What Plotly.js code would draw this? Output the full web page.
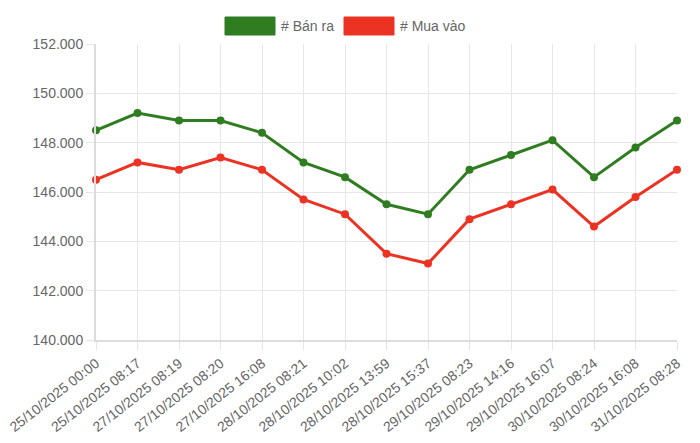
<!DOCTYPE html>
<html>
<head>
<meta charset="utf-8">
<script src="https://cdn.plot.ly/plotly-3.0.1.min.js"></script>
<style>
  html, body { margin: 0; padding: 0; background: #fff; }
  #chart { width: 700px; height: 443px; }
</style>
</head>
<body>
<div id="chart"></div>
<script>
var labels = [
  '25/10/2025 00:00', '25/10/2025 08:17', '27/10/2025 08:19', '27/10/2025 08:20',
  '27/10/2025 16:08', '28/10/2025 08:21', '28/10/2025 10:02', '28/10/2025 13:59',
  '28/10/2025 15:37', '29/10/2025 08:23', '29/10/2025 14:16', '29/10/2025 16:07',
  '30/10/2025 08:24', '30/10/2025 16:08', '31/10/2025 08:28'
];
var banRa = [148500, 149200, 148900, 148900, 148400, 147200, 146600, 145500,
             145100, 146900, 147500, 148100, 146600, 147800, 148900];
var muaVao = [146500, 147200, 146900, 147400, 146900, 145700, 145100, 143500,
              143100, 144900, 145500, 146100, 144600, 145800, 146900];
var seriesNames = ['# Bán ra', '# Mua vào'];

var green = '#2f7d20';
var red = '#ec3323';
var gridColor = '#e6e6e6';
var fontFam = 'Liberation Sans, Arial, sans-serif';

function makeTrace(values, name, color) {
  return {
    x: labels,
    y: values,
    name: name,
    type: 'scatter',
    mode: 'lines+markers',
    line: { color: color, width: 3 },
    marker: { color: color, size: 8 },
    cliponaxis: false,
    showlegend: false
  };
}

var data = [
  makeTrace(banRa, seriesNames[0], green),
  makeTrace(muaVao, seriesNames[1], red)
];

// legend drawn by hand so the swatches are boxes
var shapes = [];
var annotations = [];
var legendItems = [
  { text: seriesNames[0], color: green, left: 225 },
  { text: seriesNames[1], color: red, left: 344 }
];
var plotW = 700 - 96 - 23, plotH = 443 - 44 - 103;
legendItems.forEach(function (it) {
  var px0 = (it.left - 96) / plotW, px1 = (it.left + 50 - 96) / plotW;
  shapes.push({
    type: 'rect', xref: 'paper', yref: 'paper',
    x0: px0, x1: px1,
    y0: 1 + (44 - 35) / plotH, y1: 1 + (44 - 17) / plotH,
    fillcolor: it.color, line: { color: it.color, width: 1 }
  });
  annotations.push({
    xref: 'paper', yref: 'paper',
    x: px1 + 4 / plotW, y: 1 + (44 - 26) / plotH,
    xanchor: 'left', yanchor: 'middle',
    text: it.text, showarrow: false,
    font: { family: fontFam, size: 14, color: '#666' }
  });
});

var layout = {
  width: 700,
  height: 443,
  margin: { l: 96, r: 23, t: 44, b: 103 },
  paper_bgcolor: '#fff',
  plot_bgcolor: '#fff',
  separators: ',.',
  font: { family: fontFam, size: 14, color: '#666' },
  xaxis: {
    type: 'category',
    range: [0, labels.length - 1],
    tickangle: -38,
    showgrid: true,
    gridcolor: gridColor,
    ticks: 'outside',
    ticklen: 8,
    tickcolor: gridColor,
    showline: true,
    linecolor: '#dcdcdc',
    linewidth: 2,
    zeroline: false,
    tickfont: { size: 14, color: '#666' }
  },
  yaxis: {
    range: [140000, 152000],
    dtick: 2000,
    tick0: 140000,
    tickformat: ',',
    showgrid: true,
    gridcolor: gridColor,
    ticks: 'outside',
    ticklen: 8,
    tickcolor: gridColor,
    showline: true,
    linecolor: '#dcdcdc',
    linewidth: 2,
    zeroline: false,
    tickfont: { size: 14, color: '#666' }
  },
  shapes: shapes,
  annotations: annotations
};

Plotly.newPlot('chart', data, layout, { staticPlot: true, displayModeBar: false });
</script>
</body>
</html>
